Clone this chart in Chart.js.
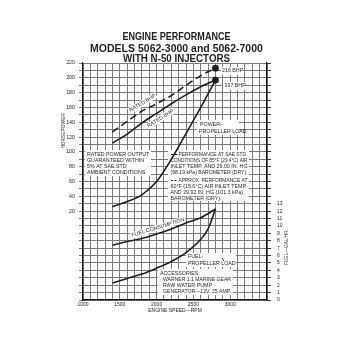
<!DOCTYPE html>
<html><head><meta charset="utf-8">
<script src="https://cdn.jsdelivr.net/npm/chart.js@4.4.1/dist/chart.umd.min.js"></script>
<style>html,body{margin:0;padding:0;background:#fff;}canvas{display:block;}</style>
</head><body>
<canvas id="c" width="358" height="353"></canvas>
<script>
// ---- data ----
const rpm = [1400, 1600, 1800, 2000, 2200, 2400, 2600, 2800];
const bhpApprox60F = [127, 141, 155, 165, 176, 190, 203, 213];
const bhpRatedSAE = [112, 124, 139, 152, 165, 177, 188, 197];
const hpPropellerLoad = [26, 33, 42, 60, 90, 125, 160, 197];
const fuelConsumption = [7.4, 7.9, 8.3, 8.9, 9.6, 10.4, 11.1, 12.3];
const rpmFuelProp = [1400, 1600, 1800, 2000, 2200, 2400, 2600, 2700, 2800];
const fuelPropellerLoad = [2.3, 2.9, 3.5, 4.3, 5.2, 6.4, 8.2, 9.6, 12.3];
const hpTickLabels = [20, 40, 60, 80, 100, 120, 140, 160, 180, 200, 220];
const fuelTickLabels = [0,1,2,3,4,5,6,7,8,9,10,11,12,13];
const rpmTickLabels = [1000, 1500, 2000, 2500, 3000];

const FONT = '"Liberation Sans", Arial, sans-serif';
const INK = '#1e1e1e';
const pts = (xs, ys) => xs.map((x, i) => ({x: x, y: ys[i]}));
const lastDot = r => ctx => ctx.dataIndex === ctx.dataset.data.length - 1 ? r : 0;

function rtext(ctx, text, x, y, deg, size, bg) {
  ctx.save();
  ctx.translate(x, y);
  ctx.rotate(deg * Math.PI / 180);
  ctx.font = size + 'px ' + FONT;
  ctx.textAlign = 'center';
  ctx.textBaseline = 'middle';
  if (bg) {
    const w = ctx.measureText(text).width;
    ctx.fillStyle = '#fff';
    ctx.fillRect(-w / 2 - 1, -size / 2 - 0.5, w + 2, size + 1);
  }
  ctx.fillStyle = INK;
  ctx.fillText(text, 0, 0);
  ctx.restore();
}
function block(ctx, lines, x, y, lh, size, maxW) {
  ctx.save();
  ctx.font = size + 'px ' + FONT;
  ctx.fillStyle = INK;
  ctx.textAlign = 'left';
  ctx.textBaseline = 'middle';
  lines.forEach((l, i) => {
    if (maxW) ctx.fillText(l[1], x + l[0], y + i * lh, maxW - l[0]);
    else ctx.fillText(l[1], x + l[0], y + i * lh);
  });
  ctx.restore();
}
function box(ctx, x0, y0, x1, y1) { ctx.fillStyle = '#fff'; ctx.fillRect(x0, y0, x1 - x0, y1 - y0); }

const notes = {
  id: 'notes',
  beforeDatasetsDraw(chart) {
    const c = chart.ctx;
    box(c, 85, 150, 151, 176);
    box(c, 168, 150, 249, 201);
    box(c, 197, 120, 239, 135);
    box(c, 186, 253, 236, 267);
    box(c, 158, 269, 233, 295);
    box(c, 221, 67, 243, 75);
    box(c, 223, 82, 245, 90);
    const s = 5.3, lh = 6.1;
    block(c, [[0,'RATED POWER OUTPUT'],[0,'GUARANTEED WITHIN'],[0,'5% AT SAE STD'],[0,'AMBIENT CONDITIONS']], 87, 154.5, lh, s);
    block(c, [[8,'PERFORMANCE AT SAE STD.'],[0,'CONDITIONS OF 85°F (29.4°C) AIR'],[0,'INLET TEMP. AND 29.00 IN. HG'],[0,'(98.19 kPa) BAROMETER (DRY).']], 170.5, 154.5, lh, s, 77);
    block(c, [[8,'APPROX. PERFORMANCE AT'],[0,'60°F (15.6°C) AIR INLET TEMP.'],[0,'AND 29.92 IN. HG (101.3 kPa)'],[0,'BAROMETER (DRY).']], 170.5, 180.5, lh, s, 77);
    block(c, [[1,'POWER-'],[0,'PROPELLER LOAD']], 199, 124.5, 6.6, s);
    block(c, [[0,'FUEL-'],[0,'PROPELLER LOAD']], 188, 256.5, 6.6, s);
    block(c, [[0,'ACCESSORIES:'],[3,'WARNER 1:1 MARINE GEAR'],[3,'RAW WATER PUMP'],[3,'GENERATOR—12V. 25 AMP.']], 160, 273.3, 6.1, s, 71);
    block(c, [[0,'216 BHP']], 222, 71, 6, s);
    block(c, [[0,'197 BHP']], 224.5, 86, 6, s);
    c.save(); c.strokeStyle = INK; c.lineWidth = 1;
    c.beginPath(); c.moveTo(171, 154.5); c.lineTo(177.5, 154.5); c.stroke();
    c.setLineDash([2, 1.5]); c.beginPath(); c.moveTo(171, 180.5); c.lineTo(177.5, 180.5); c.stroke();
    c.setLineDash([]); c.beginPath(); c.moveTo(222, 258); c.lineTo(224, 261); c.stroke();
    c.restore();
    rtext(c, 'RATED BHP', 142.5, 103, -31, s, true);
    rtext(c, 'RATED BHP', 160.5, 118.5, -32, s, true);
    rtext(c, 'FUEL CONSUMPTION', 158, 227.5, -17, s, true);
  },
  afterDraw(chart) {
    const c = chart.ctx;
    c.save();
    c.fillStyle = INK;
    c.textAlign = 'center';
    c.textBaseline = 'middle';
    c.font = 'bold 10px ' + FONT;
    c.fillText('ENGINE PERFORMANCE', 176.5, 37.5, 108);
    c.font = 'bold 10.5px ' + FONT;
    c.fillText('MODELS 5062-3000 and 5062-7000', 176.5, 49, 173);
    c.font = 'bold 10px ' + FONT;
    c.fillText('WITH N-50 INJECTORS', 176.5, 59, 107);
    c.font = '5px ' + FONT;
    c.fillText('ENGINE SPEED—RPM', 175, 311);
    c.restore();
    rtext(c, 'HORSEPOWER', 63.5, 131, -90, 4.8, false);
    rtext(c, 'FUEL—GAL/HR.', 287, 247, -90, 4.8, false);
  }
};

const line = (label, data, axis, extra) => Object.assign({
  label: label, data: data, yAxisID: axis, borderColor: INK, backgroundColor: INK,
  borderWidth: 1.6, pointRadius: 0, fill: false, tension: 0.4, cubicInterpolationMode: 'monotone'
}, extra || {});

new Chart(document.getElementById('c'), {
  type: 'line',
  data: {
    datasets: [
      line('Approx. performance 60°F (BHP)', pts(rpm, bhpApprox60F), 'y', {borderDash: [7, 4], pointRadius: lastDot(2.6)}),
      line('Rated BHP SAE', pts(rpm, bhpRatedSAE), 'y', {pointRadius: lastDot(2.6)}),
      line('Power - propeller load', pts(rpm, hpPropellerLoad), 'y'),
      line('Fuel consumption', pts(rpm, fuelConsumption), 'y2'),
      line('Fuel - propeller load', pts(rpmFuelProp, fuelPropellerLoad), 'y2')
    ]
  },
  options: {
    responsive: false, animation: false, devicePixelRatio: 1,
    layout: {padding: {top: 63, left: 0, right: 0, bottom: 0}},
    plugins: {legend: {display: false}, title: {display: false}, tooltip: {enabled: false}},
    elements: {point: {hoverRadius: 0, borderWidth: 0}},
    scales: {
      x: {
        type: 'linear', min: 1000, max: 3500,
        afterFit: s => { s.height = 53; },
        border: {color: '#111', width: 1.2},
        grid: {color: '#7a7a7a', lineWidth: 1, tickLength: 1},
        ticks: {stepSize: 100, autoSkip: false, maxRotation: 0, padding: 1, color: INK,
          font: {family: FONT, size: 5},
          callback: v => rpmTickLabels.includes(v) ? String(v) : ''}
      },
      y: {
        type: 'linear', position: 'left', min: -100, max: 220,
        afterFit: s => { s.width = 83; },
        border: {color: '#111', width: 1.2},
        grid: {color: '#7a7a7a', lineWidth: 1, tickLength: 4},
        ticks: {stepSize: 10, autoSkip: false, padding: 4, color: INK,
          font: {family: FONT, size: 5.3},
          callback: v => hpTickLabels.includes(v) ? String(v) : ''}
      },
      y2: {
        type: 'linear', position: 'right', min: 0, max: 32,
        afterFit: s => { s.width = 91; },
        border: {color: '#111', width: 1.2},
        grid: {drawOnChartArea: false, color: '#333', tickLength: 4},
        ticks: {stepSize: 1, autoSkip: false, padding: 6, color: INK,
          font: {family: FONT, size: 5},
          callback: v => fuelTickLabels.includes(v) ? String(v) : ''}
      }
    }
  },
  plugins: [notes]
});
</script>
</body></html>
